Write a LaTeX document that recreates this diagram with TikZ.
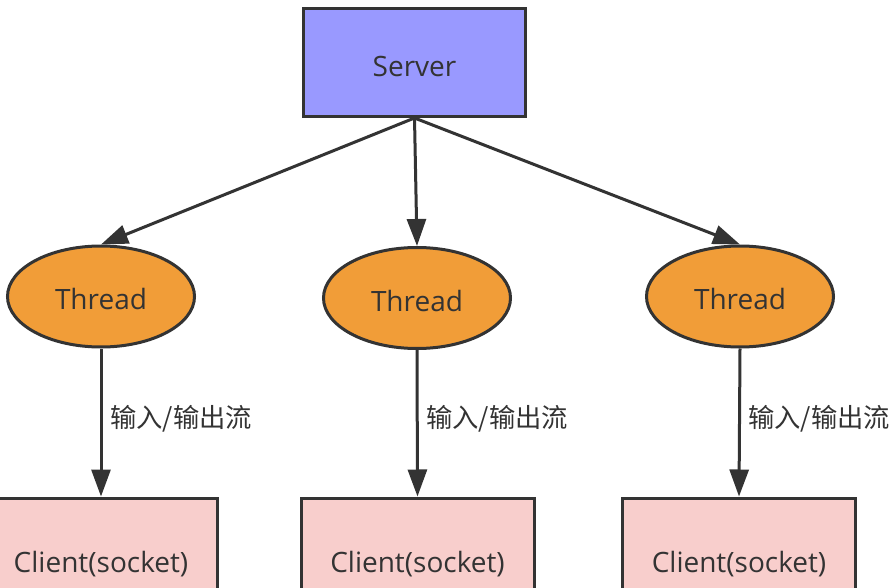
\documentclass[tikz,border=0pt]{standalone}
\usepackage{fontspec}
\setmainfont{Open Sans}
\newfontfamily\cjkfont{Noto Sans CJK SC}
\usetikzlibrary{arrows.meta,shapes.geometric}
\definecolor{serverfill}{RGB}{153,153,255}
\definecolor{threadfill}{RGB}{241,157,56}
\definecolor{clientfill}{RGB}{248,206,204}
\definecolor{edgecol}{RGB}{51,51,51}
\definecolor{txtcol}{RGB}{51,51,51}
\tikzset{
  base/.style={draw=edgecol, line width=3pt, text=txtcol, font=\fontsize{28pt}{32pt}\selectfont, inner sep=0pt, text depth=0pt},
  serverbox/.style={base, rectangle, fill=serverfill, minimum width=222pt, minimum height=108pt, text height=28pt},
  threadnode/.style={base, ellipse, fill=threadfill, minimum width=187pt, minimum height=101pt, text height=26pt},
  clientbox/.style={base, rectangle, fill=clientfill, minimum width=233pt, minimum height=130pt, text height=19pt},
  conn/.style={draw=edgecol, line width=3pt, -{Triangle[length=27pt,width=19pt]}},
  lbl/.style={text=txtcol, font=\cjkfont\fontsize{26.3pt}{30pt}\selectfont, inner sep=0pt, anchor=west}
}
\begin{document}
\begin{tikzpicture}[x=1pt,y=-1pt]
\clip (0,0) rectangle (896,588);
\fill[white] (0,0) rectangle (896,588);
\node[serverbox] (server) at (414.5,62.5) {Server};
\node[threadnode] (t1) at (101,296.5) {Thread};
\node[threadnode] (t2) at (417,298) {Thread};
\node[threadnode] (t3) at (740,296.5) {Thread};
\node[clientbox] (c1) at (101,563) {Client(socket)};
\node[clientbox] (c2) at (417.5,563) {Client(socket)};
\node[clientbox] (c3) at (739,563) {Client(socket)};
\draw[conn] (server.south) -- (t1.north);
\draw[conn] (server.south) -- (t2.north);
\draw[conn] (server.south) -- (t3.north);
\draw[conn] (t1.south) -- (c1.north);
\draw[conn] (t2.south) -- (c2.north);
\draw[conn] (t3.south) -- (c3.north);
\node[lbl] (l1) at (110,419) {输入/输出流};
\node[lbl] (l2) at (426,419) {输入/输出流};
\node[lbl] (l3) at (748,419) {输入/输出流};
\end{tikzpicture}
\end{document}
